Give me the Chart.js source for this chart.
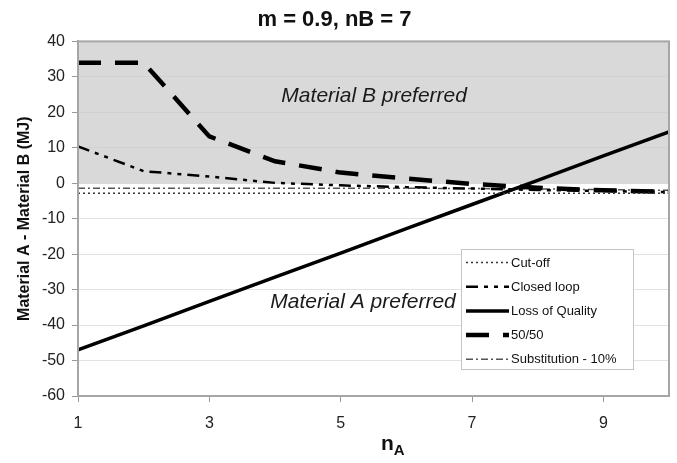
<!DOCTYPE html>
<html>
<head>
<meta charset="utf-8">
<script src="https://cdn.jsdelivr.net/npm/chart.js@4.4.1/dist/chart.umd.min.js"></script>
<style>
  html, body { margin: 0; padding: 0; background: #fff; }
  #wrap { width: 677px; height: 463px; }
</style>
</head>
<body>
<div id="wrap"><canvas id="chart"></canvas></div>
<script>
// m = 0.9, nB = 7 -- difference Material A - Material B (MJ) vs nA

const FONT = '"Liberation Sans", Arial, sans-serif';

const nA = [1, 2, 3, 4, 5, 6, 7, 8, 9, 10];
const X_TICKS = [1, 3, 5, 7, 9];

const cutOff        = [-2.8, -2.8, -2.8, -2.8, -2.8, -2.8, -2.8, -2.8, -2.8, -2.8];
const closedLoop    = [10.4, 3.4, 1.9, 0.1, -0.6, -1.1, -1.5, -1.9, -2.2, -2.5];
const lossOfQuality = [-47, -40.2, -33.3, -26.5, -19.7, -12.8, -6.0, 0.8, 7.7, 14.5];
const fiftyFifty    = [34, 34, 13.2, 6.2, 3.0, 1.3, -0.2, -1.3, -2.0, -2.4];
const substitution  = [-1.4, -1.4, -1.4, -1.4, -1.4, -1.4, -1.5, -1.6, -1.8, -2.0];
const bPreferred    = [40, 40, 40, 40, 40, 40, 40, 40, 40, 40];

const pts = (ys) => nA.map((x, i) => ({ x, y: ys[i] }));

function dsLine(label, data, color, width, dash) {
  return {
    label,
    data: pts(data),
    borderColor: color,
    borderWidth: width,
    borderDash: dash,
    pointRadius: 0,
    tension: 0,
    fill: false
  };
}

// ---- text labels in the plot, anchored in data units ----
const regionLabels = [
  { text: "Material B preferred", x: 5.51, y: 24.5 },
  { text: "Material A preferred", x: 5.34, y: -33.5 }
];

const regionLabelPlugin = {
  id: "regionLabels",
  afterDatasetsDraw(chart) {
    const { ctx, scales } = chart;
    ctx.save();
    ctx.font = "italic 21px " + FONT;
    ctx.fillStyle = "#1a1a1a";
    ctx.textAlign = "center";
    ctx.textBaseline = "middle";
    for (const l of regionLabels) {
      ctx.fillText(l.text, scales.x.getPixelForValue(l.x), scales.y.getPixelForValue(l.y));
    }
    ctx.restore();
  }
};

// frame round the plot area (top + right sides are not axes)
const framePlugin = {
  id: "frame",
  afterDraw(chart) {
    const { ctx, chartArea: a } = chart;
    ctx.save();
    ctx.strokeStyle = "#a6a6a6";
    ctx.lineWidth = 2;
    ctx.strokeRect(a.left, a.top, a.right - a.left, a.bottom - a.top);
    ctx.restore();
  }
};

// legend box inside the plot, lower right
const boxLegendPlugin = {
  id: "boxLegend",
  afterDraw(chart) {
    const { ctx } = chart;
    const box = { x: 461, y: 249, w: 172, h: 120 };
    const rowH = 24.2;
    ctx.save();
    ctx.fillStyle = "#fff";
    ctx.fillRect(box.x, box.y, box.w, box.h);
    ctx.strokeStyle = "#c4c4c4";
    ctx.lineWidth = 1;
    ctx.strokeRect(box.x + 0.5, box.y + 0.5, box.w, box.h);
    const items = chart.data.datasets.filter(d => !d.hideInLegend);
    items.forEach((d, i) => {
      const y = box.y + 13.5 + i * rowH;
      ctx.strokeStyle = d.borderColor;
      ctx.lineWidth = d.borderWidth;
      ctx.setLineDash(d.borderDash || []);
      ctx.beginPath();
      ctx.moveTo(box.x + 5, y);
      ctx.lineTo(box.x + 48, y);
      ctx.stroke();
      ctx.setLineDash([]);
      ctx.fillStyle = "#111";
      ctx.font = "13px " + FONT;
      ctx.textAlign = "left";
      ctx.textBaseline = "middle";
      ctx.fillText(d.label, box.x + 50, y + 0.5);
    });
    ctx.restore();
  }
};

// x-axis title with subscript A
const xTitlePlugin = {
  id: "xTitle",
  afterDraw(chart) {
    const { ctx } = chart;
    ctx.save();
    ctx.fillStyle = "#111";
    ctx.textAlign = "left";
    ctx.textBaseline = "alphabetic";
    ctx.font = "bold 21px " + FONT;
    const x0 = 381, base = 450;
    ctx.fillText("n", x0, base);
    const w = ctx.measureText("n").width;
    ctx.font = "bold 15px " + FONT;
    ctx.fillText("A", x0 + w, base + 5);
    ctx.restore();
  }
};

const datasets = [
  dsLine("Cut-off", cutOff, "#333", 1.5, [2, 3]),
  dsLine("Closed loop", closedLoop, "#000", 2.5, [12, 6, 4, 6, 4, 6]),
  dsLine("Loss of Quality", lossOfQuality, "#000", 3.5, []),
  dsLine("50/50", fiftyFifty, "#000", 4.5, [23, 14]),
  dsLine("Substitution - 10%", substitution, "#555", 1.5, [7, 3, 2, 3]),
  {
    label: "B preferred",
    hideInLegend: true,
    data: pts(bPreferred),
    borderWidth: 0,
    pointRadius: 0,
    backgroundColor: "rgba(150, 150, 150, 0.36)",
    fill: "origin",
    order: 10
  }
];

new Chart(document.getElementById("chart").getContext("2d"), {
  type: "line",
  data: { datasets },
  plugins: [regionLabelPlugin, framePlugin, boxLegendPlugin, xTitlePlugin],
  options: {
    responsive: true,
    maintainAspectRatio: false,
    animation: false,
    devicePixelRatio: 1,
    layout: { padding: { left: 0, right: 8, top: 0, bottom: 0 } },
    plugins: {
      legend: { display: false },
      tooltip: { enabled: false },
      title: {
        display: true,
        text: "m = 0.9, nB = 7",
        color: "#111",
        font: { family: FONT, size: 22, weight: "bold" },
        padding: { top: 7, bottom: 8 }
      }
    },
    scales: {
      x: {
        type: "linear",
        min: 1,
        max: 10,
        afterBuildTicks: (s) => { s.ticks = X_TICKS.map(v => ({ value: v })); },
        afterFit: (s) => { s.height = 67; },
        ticks: {
          color: "#222",
          font: { family: FONT, size: 16 },
          padding: 12,
          maxRotation: 0
        },
        grid: {
          drawOnChartArea: false,
          drawTicks: true,
          tickLength: 6,
          tickColor: "#999"
        },
        border: { color: "#a6a6a6", width: 2 }
      },
      y: {
        min: -60,
        max: 40,
        afterFit: (s) => { s.width = 78; },
        ticks: {
          stepSize: 10,
          color: "#222",
          font: { family: FONT, size: 16 },
          padding: 7
        },
        grid: {
          // lines under the grey band are kept faint
          color: (c) => (c.tick && c.tick.value > 0 && c.tick.value < 40) ? "#f2f2f2" : "#e2e2e2",
          lineWidth: 1,
          drawTicks: true,
          tickLength: 6,
          tickColor: "#999"
        },
        border: { color: "#a6a6a6", width: 2 },
        title: {
          display: true,
          text: "Material A - Material B (MJ)",
          color: "#111",
          font: { family: FONT, size: 16, weight: "bold" },
          padding: { top: 15, bottom: 0 }
        }
      }
    }
  }
});
</script>
</body>
</html>
